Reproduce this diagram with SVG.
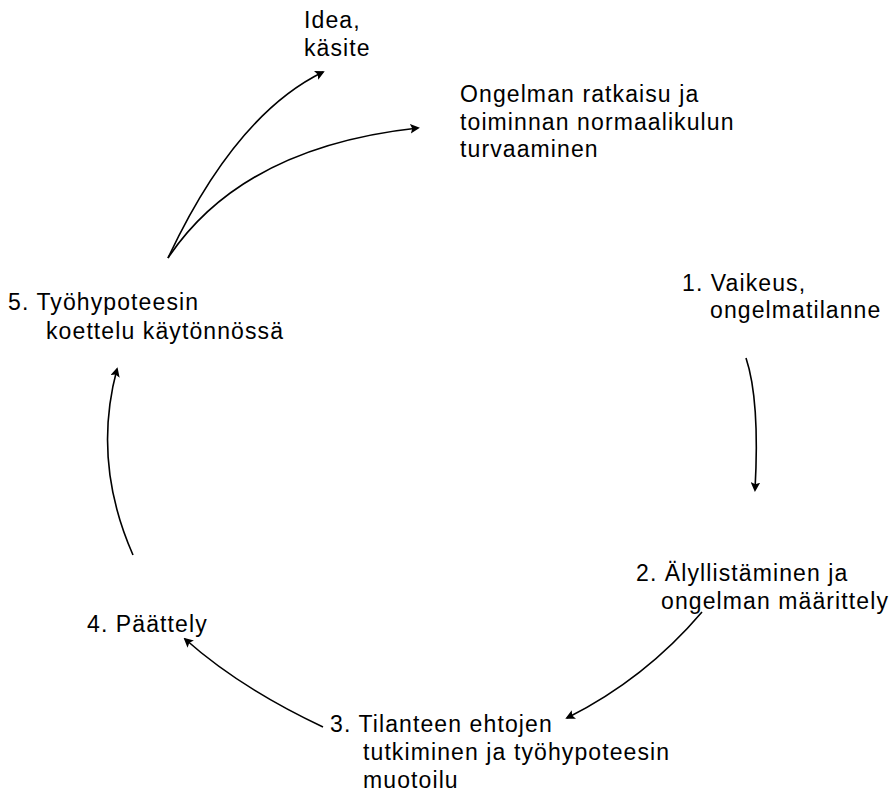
<svg xmlns="http://www.w3.org/2000/svg" width="889" height="801" viewBox="0 0 889 801">
  <style>
    .lbl { font-family: "Liberation Sans", Arial, sans-serif; font-size: 23px; letter-spacing: 1.1px; fill: #000; }
    .arc { fill: none; stroke: #000; stroke-width: 1.6; marker-end: url(#head); }
  </style>
  <defs>
    <marker id="head" viewBox="0 0 10 10" refX="8" refY="5" markerWidth="6" markerHeight="6" markerUnits="strokeWidth" orient="auto">
      <path d="M0,0 L10,5 L0,10 L2,5 Z" fill="#000"/>
    </marker>
  </defs>
  <rect width="889" height="801" fill="#fff"/>

  <!-- cycle stages -->
  <g id="idea">
    <text class="lbl" x="304" y="28">Idea,</text>
    <text class="lbl" x="304" y="56">käsite</text>
  </g>
  <g id="ratkaisu">
    <text class="lbl" x="460" y="102">Ongelman ratkaisu ja</text>
    <text class="lbl" x="460" y="130">toiminnan normaalikulun</text>
    <text class="lbl" x="460" y="157">turvaaminen</text>
  </g>
  <g id="vaihe1">
    <text class="lbl" x="682" y="291">1. Vaikeus,</text>
    <text class="lbl" x="710" y="318">ongelmatilanne</text>
  </g>
  <g id="vaihe2">
    <text class="lbl" x="636" y="581">2. Älyllistäminen ja</text>
    <text class="lbl" x="661" y="609">ongelman määrittely</text>
  </g>
  <g id="vaihe3">
    <text class="lbl" x="330" y="732">3. Tilanteen ehtojen</text>
    <text class="lbl" x="363" y="760">tutkiminen ja työhypoteesin</text>
    <text class="lbl" x="363" y="788">muotoilu</text>
  </g>
  <g id="vaihe4">
    <text class="lbl" x="87" y="632">4. Päättely</text>
  </g>
  <g id="vaihe5">
    <text class="lbl" x="8" y="310">5. Työhypoteesin</text>
    <text class="lbl" x="46" y="339">koettelu käytönnössä</text>
  </g>

  <!-- connectors -->
  <g id="connectors">
    <path class="arc" d="M746,358 Q760,400 755,490"/>
    <path class="arc" d="M702,612 Q645,679 567,718"/>
    <path class="arc" d="M323,727 Q240,688 185,639"/>
    <path class="arc" d="M133,555 Q92,462 117,369"/>
    <path class="arc" d="M168,258 Q235,115 323,72"/>
    <path class="arc" d="M168,258 Q242,147 418,128"/>
  </g>
</svg>
